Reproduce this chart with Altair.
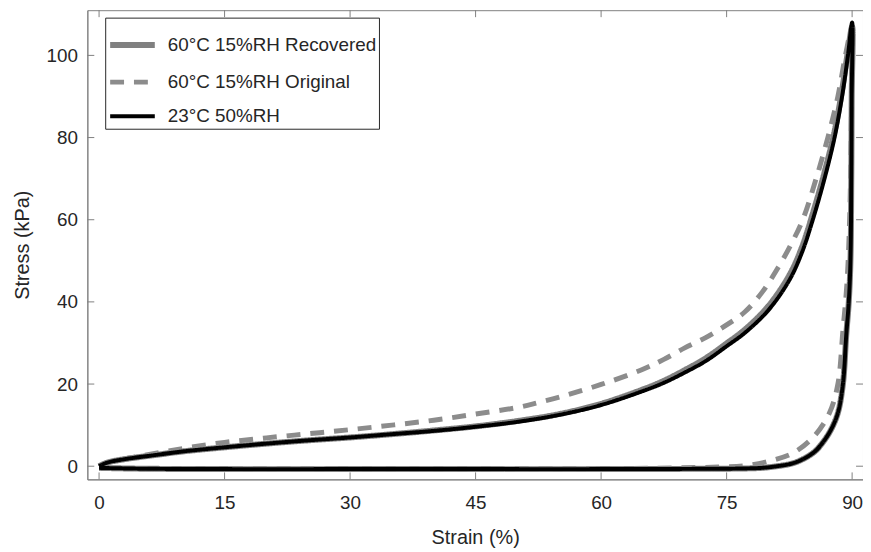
import altair as alt
import pandas as pd

series_names = ["60°C 15%RH Recovered", "60°C 15%RH Original", "23°C 50%RH"]
series_colors = ["#808080", "#8c8c8c", "#000000"]

# 23°C 50%RH (black)
black_load_x = [0, 1, 3, 7, 10, 15, 20, 25, 30, 35, 40, 45, 50, 55, 60, 65, 67.5, 70, 72.5, 75, 77.2, 80, 82.5, 84, 85.3, 86.7, 87.9, 88.8, 89.5, 90]
black_load_y = [0, 0.9, 1.7, 2.8, 3.6, 4.6, 5.5, 6.3, 7.0, 7.8, 8.6, 9.6, 10.8, 12.5, 14.9, 18.3, 20.3, 22.8, 25.6, 29.2, 32.5, 38.0, 45.3, 52.0, 60.0, 70.0, 80.0, 90.0, 100.0, 108.0]
black_unload_x = [89.95, 89.9, 89.8, 89.6, 89.3, 88.9, 88.3, 87.5, 86.5, 85.5, 84.0, 82.7, 81.0, 79.2, 77, 75, 60, 45, 30, 15, 5, 0]
black_unload_y = [90, 70, 50, 40, 32, 20, 13, 9, 5.8, 3.5, 1.6, 0.6, 0.0, -0.4, -0.55, -0.6, -0.7, -0.7, -0.7, -0.7, -0.6, -0.4]

# 60°C 15%RH Recovered (thick grey, nearly under black)
rec_load_x = [0, 1, 3, 7, 10, 15, 20, 25, 30, 35, 40, 45, 50, 55, 60, 65, 67.5, 70, 72.5, 75, 77.2, 80, 82.5, 84, 85.3, 86.7, 87.9, 88.8, 89.5, 90]
rec_load_y = [0, 0.9, 1.7, 2.8, 3.6, 4.6, 5.5, 6.3, 7.0, 7.8, 8.7, 9.7, 11.0, 12.7, 15.2, 18.7, 20.8, 23.4, 26.3, 29.9, 33.3, 39.0, 46.5, 53.3, 61.5, 71.5, 81.5, 91.5, 101.0, 107.0]
rec_unload_x = [89.95, 89.9, 89.8, 89.6, 89.3, 88.9, 88.3, 87.5, 86.5, 85.5, 84.0, 82.7, 81.0, 79.2, 77, 75, 60, 45, 30, 15, 5, 0]
rec_unload_y = [90, 70, 50, 40, 32, 20, 13, 9, 5.8, 3.5, 1.6, 0.6, 0.0, -0.4, -0.55, -0.6, -0.7, -0.7, -0.7, -0.7, -0.6, -0.4]

# 60°C 15%RH Original (dashed grey)
orig_load_x = [0, 1, 5, 10, 15, 20, 25, 30, 35, 40, 45, 50, 52.5, 55, 60, 65, 67.5, 70, 72.5, 75, 77.2, 79.3, 81.2, 82.7, 84.1, 85.7, 87.1, 88.3, 89.2, 90]
orig_load_y = [0, 0.9, 2.5, 4.3, 5.8, 6.9, 7.9, 8.9, 10.0, 11.2, 12.7, 14.3, 15.5, 16.8, 19.9, 23.6, 26.0, 28.8, 31.3, 34.4, 37.6, 42.5, 48.5, 54.0, 60.0, 70.0, 80.0, 90.0, 100.0, 107.0]
orig_unload_x = [89.95, 89.85, 89.7, 89.4, 88.9, 88.3, 87.3, 85.5, 83.1, 80.4, 77.2, 74, 69, 60, 45, 30, 15, 0]
orig_unload_y = [95, 75, 60, 45, 33, 20, 13, 7.4, 3.4, 1.4, 0.1, -0.2, -0.4, -0.6, -0.6, -0.6, -0.6, -0.5]

x_ticks = [0, 15, 30, 45, 60, 75, 90]
y_ticks = [0, 20, 40, 60, 80, 100]

rows = []
def add(name, xs, ys):
    for x, y in zip(xs, ys):
        rows.append({"series": name, "strain": x, "stress": y, "idx": len(rows)})

add(series_names[0], rec_load_x + rec_unload_x, rec_load_y + rec_unload_y)
add(series_names[1], orig_load_x + orig_unload_x, orig_load_y + orig_unload_y)
add(series_names[2], black_load_x + black_unload_x, black_load_y + black_unload_y)
df = pd.DataFrame(rows)

W, H = 782, 473
FONT = "Liberation Sans, Arial, Helvetica, sans-serif"

xscale = alt.Scale(domain=[-1.4, 91.3], nice=False, zero=False)
yscale = alt.Scale(domain=[-3.2, 111], nice=False, zero=False)

legend = alt.Legend(
    title=None, orient="none", legendX=18, legendY=7.5,
    symbolType="stroke", symbolSize=2025, labelFontSize=19, labelFont=FONT,
    labelColor="#262626", strokeColor="#262626", fillColor="white",
    padding=2, rowPadding=-6, symbolOffset=0, labelOffset=10, labelLimit=0,
)

enc_x = alt.X("strain:Q", scale=xscale,
              axis=alt.Axis(values=x_ticks, title="Strain (%)", grid=False, ticks=False,
                            labelPadding=14, titlePadding=16))
enc_y = alt.Y("stress:Q", scale=yscale,
              axis=alt.Axis(values=y_ticks, title="Stress (kPa)", grid=False, ticks=False,
                            labelPadding=10, titlePadding=14))
color = alt.Color("series:N", scale=alt.Scale(domain=series_names, range=series_colors), legend=legend)
dash = alt.StrokeDash("series:N", scale=alt.Scale(domain=series_names, range=[[1, 0], [14, 10], [1, 0]]), legend=legend)
width = alt.StrokeWidth("series:N", scale=alt.Scale(domain=series_names, range=[6, 4, 4]), legend=legend)

layers = []
for name in series_names:
    layers.append(
        alt.Chart(df).transform_filter(alt.datum.series == name)
        .mark_line(strokeCap="butt", strokeJoin="round", interpolate="catmull-rom")
        .encode(x=enc_x, y=enc_y, color=color, strokeDash=dash, strokeWidth=width,
                order=alt.Order("idx:Q"))
    )

tick_color = "#808080"
xt = pd.DataFrame({"t": x_ticks})
yt = pd.DataFrame({"t": y_ticks})
xb = alt.Chart(xt).mark_rule(color=tick_color, strokeWidth=1).encode(
    x=alt.X("t:Q", scale=xscale), y=alt.value(H - 7), y2=alt.value(H))
xtop = alt.Chart(xt).mark_rule(color=tick_color, strokeWidth=1).encode(
    x=alt.X("t:Q", scale=xscale), y=alt.value(0), y2=alt.value(7))
yl = alt.Chart(yt).mark_rule(color=tick_color, strokeWidth=1).encode(
    y=alt.Y("t:Q", scale=yscale), x=alt.value(0), x2=alt.value(7))
yr = alt.Chart(yt).mark_rule(color=tick_color, strokeWidth=1).encode(
    y=alt.Y("t:Q", scale=yscale), x=alt.value(W - 7), x2=alt.value(W))

chart = alt.layer(xb, xtop, yl, yr, *layers).properties(
    width=W, height=H,
    autosize=alt.AutoSizeParams(type="none"),
    padding={"left": 80, "top": 0, "right": 0, "bottom": 70},
).configure_view(stroke=tick_color, strokeWidth=1).configure_axis(
    domainColor=tick_color, domainWidth=1, labelColor="#262626", titleColor="#262626",
    labelFontSize=19, titleFontSize=20, titleFontWeight="normal",
    labelFont=FONT, titleFont=FONT,
)

chart.save("out.html", embed_options={"renderer": "svg", "actions": False})
